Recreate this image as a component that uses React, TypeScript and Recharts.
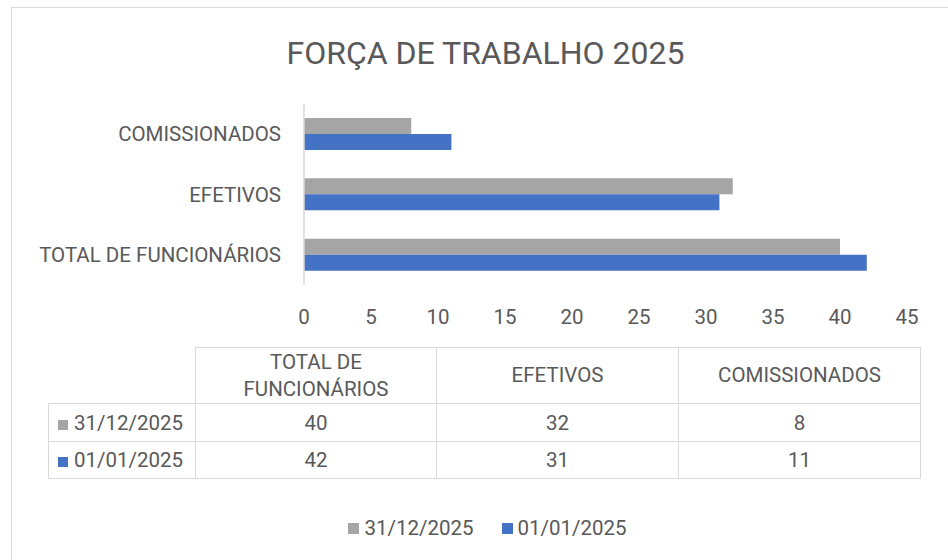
import React from 'react';
import { BarChart, Bar, XAxis, YAxis } from 'recharts';

const categories = ['TOTAL DE FUNCIONÁRIOS', 'EFETIVOS', 'COMISSIONADOS'];
const seriesNames = ['31/12/2025', '01/01/2025'];
const dec2025 = [40, 32, 8];
const jan2025 = [42, 31, 11];
const xTicks = [0, 5, 10, 15, 20, 25, 30, 35, 40, 45];
const seriesColors = ['#A5A5A5', '#4472C4'];

const seriesValues = [dec2025, jan2025];
const data = categories.map((name, i) => ({ name, s0: dec2025[i], s1: jan2025[i] }));

const FONT = 'Roboto, "Open Sans", sans-serif';
const TEXT = '#595959';
const LINE = '#d9d9d9';

const Swatch = ({ color, size, gap }: { color: string; size: number; gap: number }) => (
  <span style={{ display: 'inline-block', width: size, height: size, background: color, marginRight: gap }} />
);

export default function App() {
  const cell: React.CSSProperties = { border: `1px solid ${LINE}`, textAlign: 'center', padding: 0 };
  return (
    <div
      style={{
        position: 'fixed', left: 0, top: 0, width: 948, height: 560, overflow: 'hidden',
        background: '#fff', fontFamily: FONT, color: TEXT,
      }}
    >
      <div style={{ position: 'absolute', left: 11, top: 7, width: 1000, height: 600, border: `1px solid ${LINE}` }} />

      <div style={{ position: 'absolute', left: 0, top: 32, width: 971, textAlign: 'center', fontSize: 32, lineHeight: '42px' }}>
        FORÇA DE TRABALHO 2025
      </div>

      <div style={{ position: 'absolute', left: 0, top: 0 }}>
        <BarChart
          width={948}
          height={560}
          data={data}
          layout="vertical"
          margin={{ top: 104, right: 41, bottom: 235, left: 0 }}
          barSize={16}
          barGap={0}
        >
          <XAxis
            type="number"
            domain={[0, 45]}
            ticks={xTicks}
            axisLine={false}
            tickLine={false}
            tickSize={0}
            tickMargin={24}
            height={40}
            tick={{ fill: TEXT, fontSize: 20.5, fontFamily: FONT }}
          />
          <YAxis
            type="category"
            dataKey="name"
            reversed
            width={304}
            axisLine={{ stroke: LINE, strokeWidth: 1.5 }}
            tickLine={false}
            tickSize={0}
            tickMargin={23}
            tick={{ fill: TEXT, fontSize: 20.5, fontFamily: FONT }}
          />
          <Bar dataKey="s0" name={seriesNames[0]} fill={seriesColors[0]} isAnimationActive={false} />
          <Bar dataKey="s1" name={seriesNames[1]} fill={seriesColors[1]} isAnimationActive={false} />
        </BarChart>
      </div>

      <table
        style={{
          position: 'absolute', left: 48, top: 347, borderCollapse: 'collapse', tableLayout: 'fixed',
          fontSize: 20.5, color: TEXT, fontFamily: FONT,
        }}
      >
        <colgroup>
          <col style={{ width: 147 }} />
          <col style={{ width: 241 }} />
          <col style={{ width: 242 }} />
          <col style={{ width: 242 }} />
        </colgroup>
        <tbody>
          <tr style={{ height: 56 }}>
            <td style={{ ...cell, borderTop: 'none', borderLeft: 'none' }} />
            {categories.map((c) => (
              <td key={c} style={{ ...cell, lineHeight: '27px', padding: '0 30px' }}>{c}</td>
            ))}
          </tr>
          {seriesNames.map((s, si) => (
            <tr key={s} style={{ height: si === 0 ? 38 : 37 }}>
              <td style={{ ...cell, textAlign: 'left', paddingLeft: 9, whiteSpace: 'nowrap' }}>
                <Swatch color={seriesColors[si]} size={10} gap={6} />
                {s}
              </td>
              {seriesValues[si].map((v, i) => (
                <td key={i} style={cell}>{v}</td>
              ))}
            </tr>
          ))}
        </tbody>
      </table>

      <div
        style={{
          position: 'absolute', left: 0, top: 514, width: 975, display: 'flex', justifyContent: 'center',
          fontSize: 20.5, lineHeight: '28px', gap: 28,
        }}
      >
        {seriesNames.map((s, si) => (
          <span key={s} style={{ display: 'flex', alignItems: 'center' }}>
            <Swatch color={seriesColors[si]} size={11} gap={5} />
            {s}
          </span>
        ))}
      </div>
    </div>
  );
}
